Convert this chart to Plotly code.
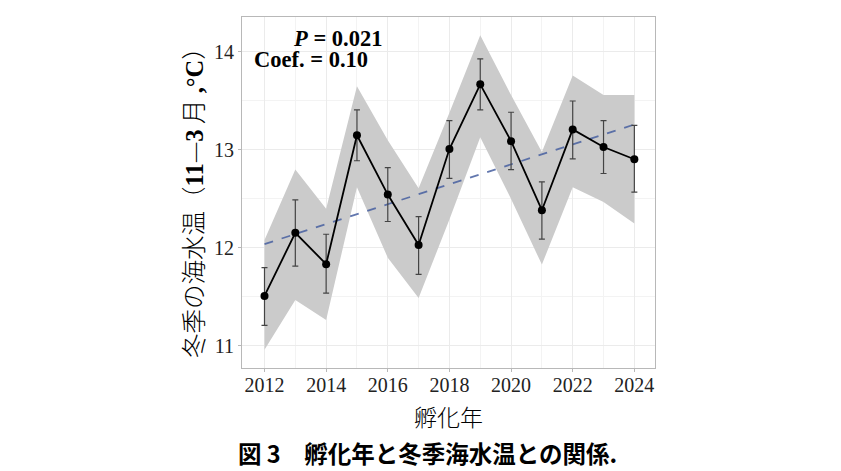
import plotly.graph_objects as go

years = [2012, 2013, 2014, 2015, 2016, 2017, 2018, 2019, 2020, 2021, 2022, 2023, 2024]
temp = [11.51, 12.155, 11.835, 13.15, 12.545, 12.03, 13.01, 13.67, 13.09, 12.385, 13.21, 13.03, 12.905]
err_hi = [11.80, 12.49, 12.14, 13.41, 12.82, 12.32, 13.30, 13.93, 13.385, 12.675, 13.50, 13.30, 13.25]
err_lo = [11.21, 11.815, 11.54, 12.89, 12.27, 11.73, 12.71, 13.41, 12.80, 12.09, 12.91, 12.76, 12.57]
band_hi = [12.08, 12.80, 12.40, 13.65, 13.10, 12.61, 13.38, 14.17, 13.56, 12.98, 13.76, 13.56, 13.56]
band_lo = [10.96, 11.47, 11.265, 12.62, 11.90, 11.49, 12.29, 13.13, 12.50, 11.83, 12.62, 12.47, 12.25]
trend_years = [2012, 2024]
trend_vals = [12.04, 13.26]
x_ticks = [2012, 2014, 2016, 2018, 2020, 2022, 2024]
y_ticks = [11, 12, 13, 14]

serif = "Liberation Serif, Times New Roman, serif"
cjk = "Noto Sans CJK JP, Noto Sans, sans-serif"

fig = go.Figure()
fig.add_trace(go.Scatter(x=years, y=band_lo, mode="lines", line=dict(width=0),
                         showlegend=False, hoverinfo="skip"))
fig.add_trace(go.Scatter(x=years, y=band_hi, mode="lines", line=dict(width=0),
                         fill="tonexty", fillcolor="rgb(203,203,203)",
                         showlegend=False, hoverinfo="skip"))
fig.add_trace(go.Scatter(x=trend_years, y=trend_vals, mode="lines",
                         line=dict(color="rgba(70,95,160,0.85)", width=1.8, dash="dash"),
                         showlegend=False))
fig.add_trace(go.Scatter(
    x=years, y=temp, mode="lines+markers",
    line=dict(color="black", width=1.8),
    marker=dict(color="black", size=8),
    error_y=dict(type="data", symmetric=False,
                 array=[h - t for h, t in zip(err_hi, temp)],
                 arrayminus=[t - l for t, l in zip(temp, err_lo)],
                 color="#444444", thickness=1.2, width=3),
    showlegend=False))

fig.update_layout(
    width=841, height=471,
    margin=dict(l=242, r=186, t=17, b=103),
    paper_bgcolor="white", plot_bgcolor="white",
    xaxis=dict(range=[2011.27, 2024.67], tickvals=x_ticks,
               tickfont=dict(family=serif, size=20, color="#222"),
               ticklabelstandoff=-4,
               showgrid=True, gridcolor="#ebebeb", gridwidth=1,
               minor=dict(showgrid=True, gridcolor="#f3f3f3", dtick=1, tick0=2011),
               showline=True, mirror=True, linecolor="#b8b8b8", linewidth=1,
               ticks="outside", ticklen=3, tickcolor="#b8b8b8", zeroline=False),
    yaxis=dict(range=[10.775, 14.357], tickvals=y_ticks,
               tickfont=dict(family=serif, size=20, color="#222"),
               showgrid=True, gridcolor="#ebebeb", gridwidth=1,
               minor=dict(showgrid=True, gridcolor="#f3f3f3", dtick=0.5, tick0=10.5),
               showline=True, mirror=True, linecolor="#b8b8b8", linewidth=1,
               ticks="outside", ticklen=3, tickcolor="#b8b8b8", zeroline=False),
)

fig.add_annotation(xref="paper", yref="paper", x=(291 - 242) / 413, y=1 - (39 - 17) / 351,
                   xanchor="left", yanchor="middle", showarrow=False, height=19,
                   text="<b><i>P</i> = 0.021</b>", font=dict(family=serif, size=22.5, color="black"))
fig.add_annotation(xref="paper", yref="paper", x=(252 - 242) / 413, y=1 - (60 - 17) / 351,
                   xanchor="left", yanchor="middle", showarrow=False, height=19,
                   text="<b>Coef. = 0.10</b>", font=dict(family=serif, size=22.5, color="black"))

# y-axis title
fig.add_annotation(xref="paper", yref="paper", x=-(242 - 193) / 413, y=1 - (197 - 17) / 351,
                   xanchor="center", yanchor="middle", showarrow=False, textangle=-90,
                   text="冬季の海水温（<span style='font-family:Liberation Serif'><b>11</b></span>—<span style='font-family:Liberation Serif'><b>3</b></span> 月<span style='font-family:Liberation Serif'><b> ,°C</b></span>）",
                   font=dict(family=cjk, size=24.5, color="black", weight=300))
# x-axis title
fig.add_annotation(xref="paper", yref="paper", x=0.5, y=-(416 - 368) / 351,
                   xanchor="center", yanchor="middle", showarrow=False,
                   text="孵化年", font=dict(family=cjk, size=23, color="black", weight=300))
# caption
fig.add_annotation(xref="paper", yref="paper", x=(427 - 242) / 413, y=-(453 - 368) / 351,
                   xanchor="center", yanchor="middle", showarrow=False,
                   text="<b>図 3　孵化年と冬季海水温との関係.</b>",
                   font=dict(family=cjk, size=23.5, color="black"))

fig.write_html("out.html")
